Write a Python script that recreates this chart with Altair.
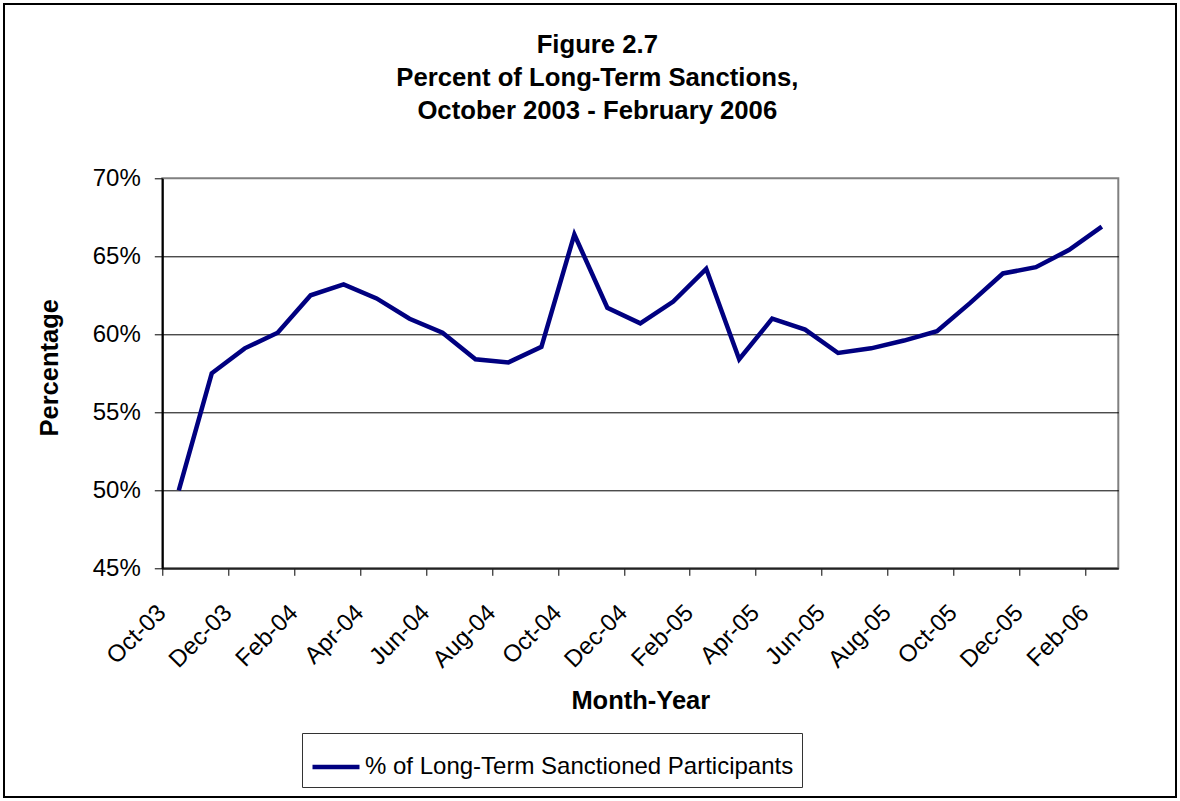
import altair as alt
import pandas as pd

months = ["Oct-03", "Nov-03", "Dec-03", "Jan-04", "Feb-04", "Mar-04", "Apr-04", "May-04",
          "Jun-04", "Jul-04", "Aug-04", "Sep-04", "Oct-04", "Nov-04", "Dec-04", "Jan-05",
          "Feb-05", "Mar-05", "Apr-05", "May-05", "Jun-05", "Jul-05", "Aug-05", "Sep-05",
          "Oct-05", "Nov-05", "Dec-05", "Jan-06", "Feb-06"]
values = [50.0, 57.5, 59.1, 60.1, 62.5, 63.2, 62.3, 61.0, 60.1, 58.4, 58.2, 59.2, 66.4, 61.7,
          60.7, 62.1, 64.2, 58.4, 61.0, 60.3, 58.8, 59.1, 59.6, 60.2, 62.0, 63.9, 64.3, 65.4, 66.9]
series_name = "% of Long-Term Sanctioned Participants"
title_lines = ["Figure 2.7", "Percent of Long-Term Sanctions,", "October 2003 - February 2006"]
y_ticks = [0.45, 0.50, 0.55, 0.60, 0.65, 0.70]
x_label_months = months[::2]

df = pd.DataFrame({"Month": months, "Value": [v / 100 for v in values], "Series": series_name})

W, H = 956, 390
LEFT, TOP = 162.3, 178.3
step = W / len(months)
FONT = "Liberation Sans"

line = alt.Chart(df).mark_line(strokeWidth=4.5).encode(
    x=alt.X("Month:O", sort=months,
            scale=alt.Scale(type="point", padding=0.5),
            axis=alt.Axis(values=x_label_months, title="Month-Year", labelAngle=-45,
                          labelAlign="right", labelBaseline="top", tickOffset=-step / 2,
                          labelOffset=-9, tickSize=7, labelPadding=25, labelFontSize=24,
                          tickColor="black", domainColor="#222222", domainWidth=2,
                          titleFontSize=25.5, titleFontWeight="bold", titleY=140,
                          titleBaseline="alphabetic", grid=False)),
    y=alt.Y("Value:Q",
            scale=alt.Scale(domain=[0.45, 0.70], nice=False, zero=False),
            axis=alt.Axis(values=y_ticks, format=".0%", title="Percentage", tickSize=8,
                          labelPadding=14, labelFontSize=24, tickColor="black",
                          domainColor="black", domainWidth=2,
                          titleFontSize=25.5, titleFontWeight="bold", titleX=-104.6,
                          titleY=189, titleAngle=270, titleBaseline="alphabetic",
                          titleAlign="center", grid=True,
                          gridColor=alt.condition("datum.value >= 0.699 || datum.value <= 0.451",
                                                  alt.value("transparent"), alt.value("black")),
                          gridWidth=1)),
    color=alt.Color("Series:N",
                    scale=alt.Scale(domain=[series_name], range=["#000080"]),
                    legend=alt.Legend(orient="none", legendX=302 - LEFT, legendY=733 - TOP,
                                      title=None, symbolType="stroke", symbolSize=2209,
                                      symbolStrokeWidth=4.5, labelFontSize=24, labelFont=FONT,
                                      labelColor="black", strokeColor="#333333",
                                      fillColor="white", padding=8, labelOffset=3,
                                      labelLimit=0)),
)

border = alt.Chart(pd.DataFrame({"k": [0]})).mark_rect(
    fill="transparent", stroke="black", strokeWidth=2
).encode(
    x=alt.value(4 - LEFT), x2=alt.value(1176 - LEFT),
    y=alt.value(4 - TOP), y2=alt.value(797 - TOP),
)

chart = alt.layer(border, line).properties(
    width=W, height=H,
    title=alt.Title(title_lines, fontSize=25.7, font=FONT, fontWeight="bold", anchor="middle",
                    lineHeight=33, offset=-122, dx=-43, color="black"),
    autosize=alt.AutoSizeParams(type="none"),
    padding={"left": LEFT, "top": TOP, "right": 1180 - LEFT - W, "bottom": 801 - TOP - H},
).configure(background="white").configure_axis(
    labelFont=FONT, titleFont=FONT, labelColor="black", titleColor="black"
).configure_view(stroke="#808080", strokeWidth=2)

chart.save("out.html", embed_options={"renderer": "svg", "actions": False})
